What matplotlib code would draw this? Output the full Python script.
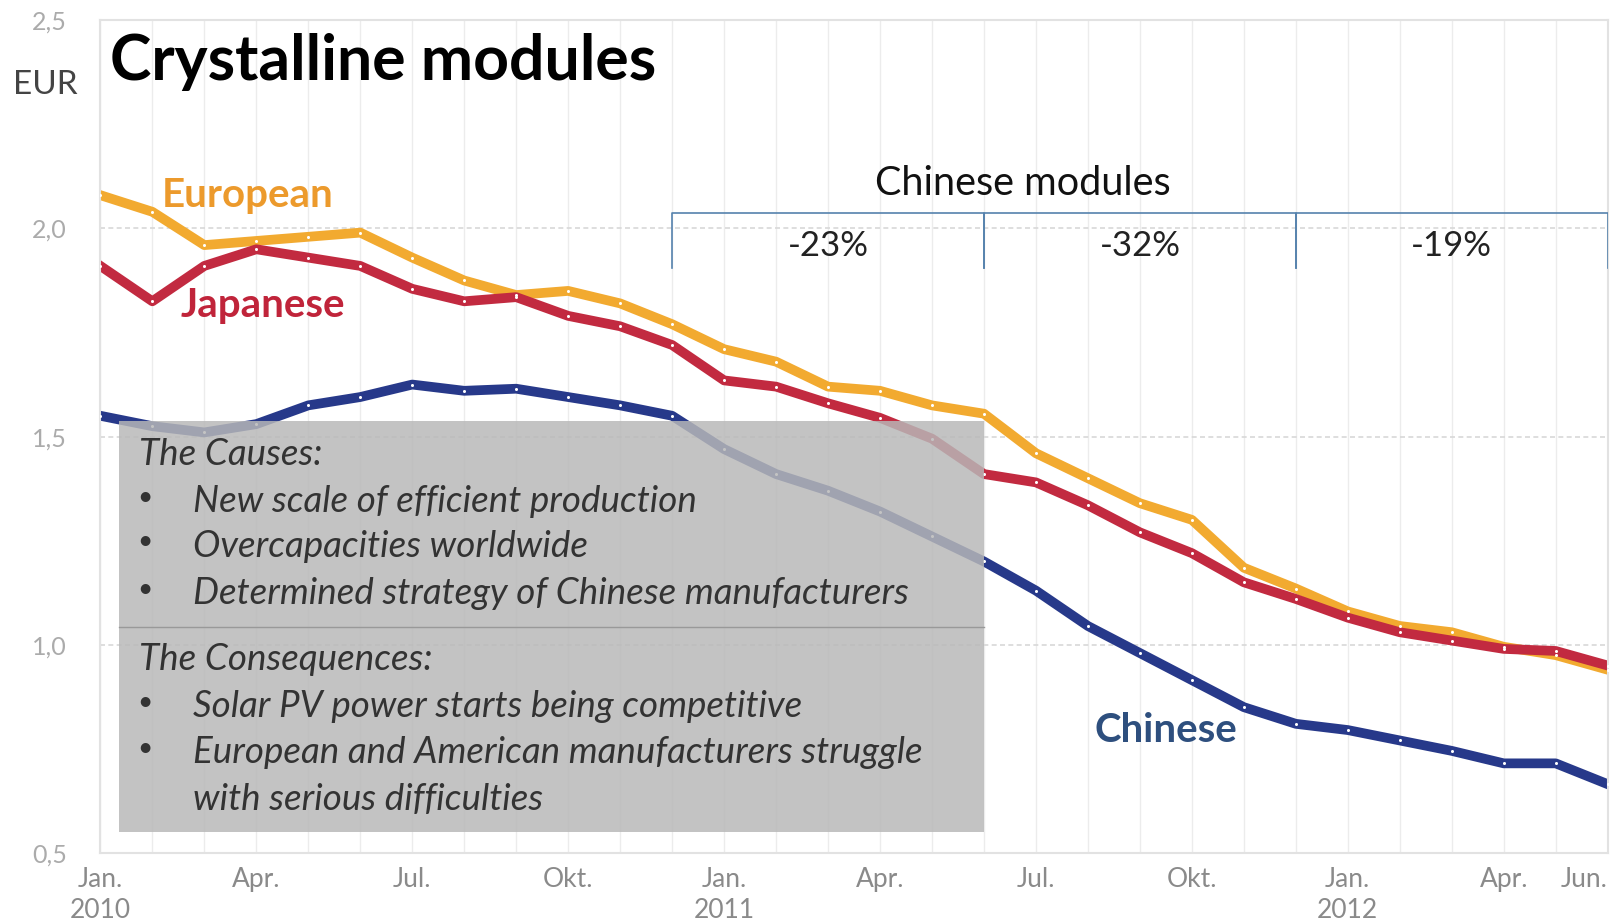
import matplotlib.pyplot as plt
import matplotlib.patches as mpatches
import numpy as np

plt.rcParams["font.family"] = ["Lato", "DejaVu Sans"]

# monthly prices, EUR per Wp, Jan 2010 .. Jun 2012
months = list(range(30))
european = [2.08, 2.04, 1.96, 1.97, 1.98, 1.99, 1.93, 1.875, 1.84, 1.85,
            1.82, 1.77, 1.71, 1.68, 1.62, 1.61, 1.575, 1.555, 1.46, 1.40,
            1.34, 1.30, 1.185, 1.135, 1.08, 1.045, 1.03, 0.995, 0.975, 0.94]
japanese = [1.91, 1.825, 1.91, 1.95, 1.93, 1.91, 1.855, 1.825, 1.835, 1.79,
            1.765, 1.72, 1.635, 1.62, 1.58, 1.545, 1.495, 1.41, 1.39, 1.335,
            1.27, 1.22, 1.15, 1.11, 1.065, 1.03, 1.01, 0.99, 0.985, 0.95]
chinese = [1.55, 1.525, 1.51, 1.53, 1.575, 1.595, 1.625, 1.61, 1.615, 1.595,
           1.575, 1.55, 1.47, 1.41, 1.37, 1.32, 1.26, 1.20, 1.13, 1.045,
           0.98, 0.915, 0.85, 0.81, 0.795, 0.77, 0.745, 0.715, 0.715, 0.665]

tick_pos = [0, 3, 6, 9, 12, 15, 18, 21, 24, 27, 29]
tick_labels = ["Jan.\n2010", "Apr.", "Jul.", "Okt.", "Jan.\n2011", "Apr.",
               "Jul.", "Okt.", "Jan.\n2012", "Apr.", "Jun."]
y_ticks = [0.5, 1.0, 1.5, 2.0, 2.5]
y_labels = ["0,5", "1,0", "1,5", "2,0", "2,5"]

bracket_edges = [11, 17, 23, 29]
bracket_labels = ["-23%", "-32%", "-19%"]

causes = ["New scale of efficient production",
          "Overcapacities worldwide",
          "Determined strategy of Chinese manufacturers"]
consequences = ["Solar PV power starts being competitive",
                "European and American manufacturers struggle",
                "with serious difficulties"]

fig = plt.figure(figsize=(16.19, 9.24), dpi=100)
ax = fig.add_axes([0.062, 0.077, 0.931, 0.901])

ax.set_xlim(0, 29)
ax.set_ylim(0.5, 2.5)

for m in months:
    ax.axvline(m, color="#ececec", lw=1, zorder=0)
for y in [1.0, 1.5, 2.0]:
    ax.axhline(y, color="#d8d8d8", lw=1.2, ls=(0, (3, 2)), zorder=0)

series = [(european, "#F2AA30"), (japanese, "#C22A40"), (chinese, "#27398A")]
for vals, col in series:
    ax.plot(months, vals, color=col, lw=7, solid_joinstyle="round", zorder=2)
    ax.plot(months, vals, ls="none", marker="o", ms=2.2, mfc="white",
            mec="none", zorder=3)

# grey comment box over the lines
box = mpatches.Rectangle((0.36, 0.55), 17 - 0.36, 1.537 - 0.55,
                         facecolor="#b8b8b8", edgecolor="none", alpha=0.84,
                         zorder=4)
ax.add_patch(box)
ax.plot([0.36, 17], [1.043, 1.043], color="#999999", lw=1, zorder=5)

txt_kw = dict(fontsize=26.5, style="italic", color="#333333", va="center",
              zorder=6)
bul_kw = dict(fontsize=19, color="#333333", va="center", ha="center",
              zorder=6)
ax.text(0.75, 1.458, "The Causes:", **txt_kw)
for y, s in zip([1.344, 1.237, 1.123], causes):
    ax.text(0.86, y + 0.01, "\u2022", **bul_kw)
    ax.text(1.79, y, s, **txt_kw)
ax.text(0.75, 0.964, "The Consequences:", **txt_kw)
for i, (y, s) in enumerate(zip([0.852, 0.741, 0.629], consequences)):
    if i < 2:
        ax.text(0.86, y + 0.01, "\u2022", **bul_kw)
    ax.text(1.79, y, s, **txt_kw)

# brackets for the chinese module price drops
bcol = "#5582ad"
for a, b, lab in zip(bracket_edges[:-1], bracket_edges[1:], bracket_labels):
    ax.plot([a, a, b, b], [1.905, 2.036, 2.036, 1.905], color=bcol, lw=1.2,
            zorder=3)
    ax.text((a + b) / 2, 1.959, lab, ha="center", va="center", fontsize=25,
            color="#222222")
ax.text(17.75, 2.108, "Chinese modules", ha="center", va="center",
        fontsize=28.5, color="#111111")

ax.text(2.84, 2.078, "European", ha="center", va="center", fontsize=29,
        fontweight="bold", color="#EC9A2C")
ax.text(3.12, 1.815, "Japanese", ha="center", va="center", fontsize=29,
        fontweight="bold", color="#C0243A")
ax.text(20.5, 0.793, "Chinese", ha="center", va="center", fontsize=29,
        fontweight="bold", color="#2E4F7E")

ax.set_xticks(tick_pos)
ax.set_xticklabels(tick_labels, fontsize=19, color="#8a8a8a", linespacing=1.3)
ax.get_xticklabels()[-1].set_ha("right")
ax.set_yticks(y_ticks)
ax.set_yticklabels(y_labels, fontsize=18, color="#ababab")
ax.tick_params(axis="x", length=0, pad=10)
ax.tick_params(axis="y", length=0, pad=24)
for sp in ax.spines.values():
    sp.set_color("#e2e2e2")
    sp.set_linewidth(1.5)

fig.text(0.068, 0.933, "Crystalline modules", fontsize=45, fontweight="bold",
         va="center", color="#000000")
fig.text(0.028, 0.908, "EUR", fontsize=24, ha="center", va="center",
         color="#444444")

fig.savefig("out.png", dpi=100)
